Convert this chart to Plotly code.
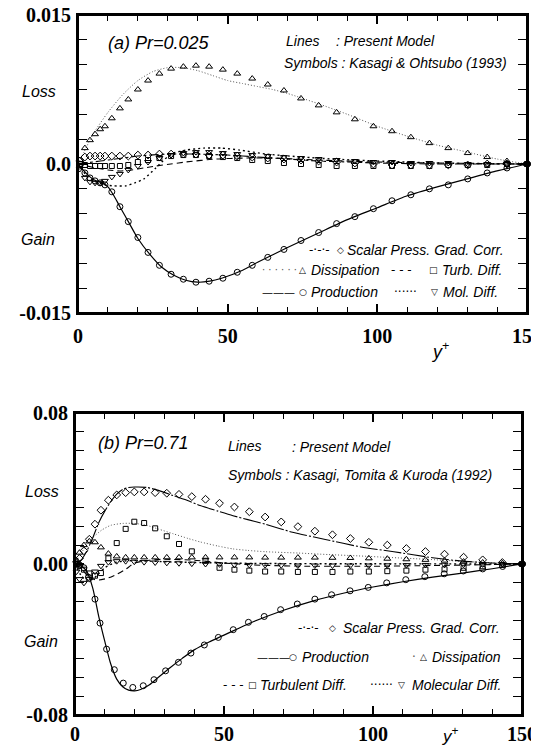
import plotly.graph_objects as go

# page is 539x753; the html body has an 8px margin on every side -> figure 523x737
OFF = 8
W, H = 523, 737

# ---------------- Panel (a) Pr = 0.025 : DNS symbols ----------------
xa_dns = [0.6, 2.3, 4.0, 5.7, 7.4, 9.0, 11.3, 14.0, 16.8, 20.0, 23.4, 27.2, 31.1, 35.2, 39.4,
          43.8, 48.4, 53.2, 58.2, 63.4, 68.8, 74.5, 80.4, 86.4, 92.5, 98.7, 104.9, 111.2,
          117.4, 123.7, 130.2, 136.7, 143.3, 150.0]
a_prod_dns = [-0.0002, -0.0009, -0.0014, -0.0017, -0.0019, -0.0021, -0.0028, -0.0043, -0.0058,
              -0.0074, -0.0089, -0.0102, -0.0111, -0.0116, -0.0119, -0.0118, -0.0115, -0.0109,
              -0.0102, -0.0094, -0.0086, -0.0077, -0.0069, -0.0060, -0.0053, -0.0045, -0.0037,
              -0.0031, -0.0025, -0.0021, -0.0015, -0.0009, -0.0004, 0.0]
a_diss_dns = [0.0004, 0.0016, 0.0024, 0.0030, 0.0035, 0.0038, 0.0046, 0.0056, 0.0065, 0.0075,
              0.0084, 0.0091, 0.0096, 0.0098, 0.0099, 0.0098, 0.0095, 0.0091, 0.0086, 0.0080,
              0.0074, 0.0066, 0.0059, 0.0052, 0.0045, 0.0038, 0.0033, 0.0027, 0.0021, 0.0016,
              0.0011, 0.0007, 0.0003, 0.0]
a_spgc_dns = [0.0003, 0.0007, 0.0008, 0.0008, 0.0008, 0.0008, 0.0008, 0.0008, 0.0008, 0.0009,
              0.0009, 0.0010, 0.0010, 0.0010, 0.0010, 0.0009, 0.0009, 0.0008, 0.0007, 0.0006,
              0.0005, 0.0004, 0.0003, 0.0002, 0.0001, 0.0000, -0.0001, -0.0001, -0.0001,
              -0.0001, -0.0001, 0.0, 0.0, 0.0]
a_turb_dns = [0.0, -0.0001, -0.0002, -0.0002, -0.0002, -0.0002, -0.0002, -0.0002, -0.0001,
              0.0002, 0.0004, 0.0006, 0.0008, 0.0009, 0.0009, 0.0008, 0.0007, 0.0006, 0.0004,
              0.0003, 0.0001, 0.0, -0.0001, -0.0002, -0.0002, -0.0002, -0.0002, -0.0002,
              -0.0002, -0.0001, -0.0001, -0.0001, 0.0, 0.0]
a_mol_dns = [-0.0005, -0.0014, -0.0018, -0.0019, -0.0019, -0.0017, -0.0013, -0.0010, -0.0006,
             -0.0002, 0.0002, 0.0006, 0.0009, 0.0011, 0.0012, 0.0012, 0.0011, 0.0010, 0.0009,
             0.0008, 0.0007, 0.0006, 0.0005, 0.0004, 0.0003, 0.0002, 0.0002, 0.0001, 0.0001,
             0.0001, 0.0, 0.0, 0.0, 0.0]

# ---------------- Panel (a) : model lines ----------------
a_prod_x = [0, 2, 4, 6, 8, 10, 12, 14, 17, 20, 24, 28, 32, 36, 40, 44, 48, 55, 60, 70, 80, 90,
            100, 110, 120, 130, 140, 150]
a_prod_v = [0, -0.0007, -0.0013, -0.0017, -0.0019, -0.0023, -0.0032, -0.0043, -0.0059, -0.0075,
            -0.0091, -0.0104, -0.0112, -0.0117, -0.0119, -0.0118, -0.0115, -0.0107, -0.0099,
            -0.0084, -0.0070, -0.0056, -0.0044, -0.0032, -0.0023, -0.0015, -0.0007, 0]
a_diss_x = [0, 2, 5, 10, 15, 20, 25, 30, 35, 40, 45, 50, 55, 60, 65, 70, 80, 90, 100, 110, 120,
            130, 140, 150]
a_diss_v = [0, 0.0012, 0.0030, 0.0052, 0.0070, 0.0084, 0.0093, 0.0097, 0.0097, 0.0094, 0.0089,
            0.0084, 0.0081, 0.0078, 0.0075, 0.0071, 0.0061, 0.0050, 0.0038, 0.0028, 0.0019,
            0.0012, 0.0005, 0.0]
a_spgc_x = [0, 5, 10, 15, 20, 30, 40, 50, 60, 70, 80, 90, 100, 120, 150]
a_spgc_v = [0, 0.0002, 0.0004, 0.0006, 0.0008, 0.0010, 0.0010, 0.0009, 0.0007, 0.0005, 0.0003,
            0.0002, 0.0001, 0.0, 0.0]
a_turb_x = [0, 3, 6, 10, 14, 18, 22, 26, 31, 36, 46, 56, 65, 80, 100, 120, 150]
a_turb_v = [0, -0.0002, -0.0004, -0.0006, -0.0007, -0.0006, -0.0004, -0.0002, 0.0, 0.0002,
            0.0005, 0.0006, 0.0006, 0.0004, 0.0002, 0.0001, 0.0]
a_mol_x = [0, 3, 6, 9, 12, 16, 19, 22, 26, 29, 32, 36, 42, 48, 54, 63, 75, 85, 100, 120, 150]
a_mol_v = [0, -0.0012, -0.0018, -0.0021, -0.0022, -0.0022, -0.0019, -0.0015, -0.0004, 0.0005,
           0.0011, 0.0014, 0.0016, 0.0016, 0.0014, 0.0010, 0.0007, 0.0005, 0.0003, 0.0001, 0.0]

# ---------------- Panel (b) Pr = 0.71 : DNS symbols ----------------
xb_dns = [0.5, 1.5, 3.0, 4.8, 6.7, 8.7, 11.2, 14.0, 17.0, 19.9, 23.2, 26.9, 30.8, 34.9, 39.2,
          43.8, 48.5, 53.5, 58.5, 63.8, 69.2, 74.8, 80.5, 86.4, 92.4, 98.6, 104.8, 111.2,
          117.6, 124.0, 130.4, 136.8, 143.4, 150.0]
xb_prod_dns = [0.5, 1.5, 3.0, 4.5, 6.7, 8.4, 10.6, 13.2, 16.2, 19.4, 22.9, 26.5, 30.4, 34.7,
               38.9, 43.4, 48.1, 53.1, 58.2, 63.5, 69.0, 74.6, 80.5, 86.1, 92.3, 98.4, 104.6,
               111.0, 117.4, 123.9, 130.3, 136.8, 143.5, 150.0]
b_prod_dns = [0.0, -0.0005, -0.002, -0.007, -0.0186, -0.0313, -0.0451, -0.0560, -0.0631,
              -0.0654, -0.0645, -0.0613, -0.0566, -0.0521, -0.0472, -0.0429, -0.0389, -0.0348,
              -0.0309, -0.0278, -0.0242, -0.0212, -0.0186, -0.0163, -0.0142, -0.0124, -0.0100,
              -0.0083, -0.0067, -0.0052, -0.0037, -0.0026, -0.0013, 0.0]
b_spgc_dns = [0.001, 0.003, 0.007, 0.0131, 0.0211, 0.0285, 0.0338, 0.0366, 0.0378, 0.0382,
              0.0382, 0.0378, 0.0375, 0.0369, 0.0357, 0.0343, 0.0322, 0.0302, 0.0277, 0.0249,
              0.0223, 0.0198, 0.0174, 0.0155, 0.0135, 0.0115, 0.0100, 0.0082, 0.0066, 0.0052,
              0.0036, 0.0022, 0.0008, 0.0]
b_turb_dns = [0.0, -0.001, -0.003, -0.005, -0.0062, -0.0048, 0.003, 0.0111, 0.0186, 0.0224,
              0.0217, 0.0189, 0.0147, 0.0106, 0.0067, 0.0017, -0.002, -0.003, -0.0035, -0.004,
              -0.004, -0.0042, -0.0042, -0.0042, -0.004, -0.004, -0.0038, -0.0035, -0.003,
              -0.0028, -0.002, -0.0012, -0.0005, 0.0]
b_diss_dns = [0.002, 0.006, 0.010, 0.012, 0.0115, 0.0088, 0.0055, 0.004, 0.0035, 0.0035,
              0.0035, 0.0035, 0.0035, 0.0035, 0.0035, 0.0035, 0.0035, 0.0035, 0.0035, 0.0034,
              0.0034, 0.0034, 0.0034, 0.0033, 0.0032, 0.003, 0.0028, 0.0025, 0.0022, 0.0018,
              0.0013, 0.0008, 0.0004, 0.0]
b_mol_dns = [-0.004, -0.008, -0.010, -0.008, -0.004, -0.001, 0.001, 0.0015, 0.0015, 0.0012,
             0.001, 0.0008, 0.0006, 0.0004, 0.0002, 0.0, -0.0002, -0.0004, -0.0005, -0.0006,
             -0.0007, -0.0008, -0.0008, -0.0008, -0.0008, -0.0008, -0.0007, -0.0006, -0.0005,
             -0.0004, -0.0003, -0.0002, -0.0001, 0.0]

# ---------------- Panel (b) : model lines ----------------
b_spgc_x = [0, 2, 4, 6, 8, 10, 12, 14, 16, 18, 20, 24, 28, 33, 38, 42, 48, 53, 58, 64, 73, 84,
            96, 107, 120, 130, 140, 150]
b_spgc_v = [0, 0.002, 0.007, 0.014, 0.022, 0.028, 0.033, 0.037, 0.0395, 0.0405, 0.0408, 0.0406,
            0.039, 0.0362, 0.0335, 0.031, 0.028, 0.0256, 0.0235, 0.021, 0.0168, 0.013, 0.009,
            0.0065, 0.0033, 0.0015, 0.0005, 0]
b_prod_x = [0, 2, 4, 6, 8, 10, 12, 14, 16, 18, 20, 22, 25, 28, 32, 36, 40, 45, 50, 55, 60, 70,
            80, 90, 100, 110, 120, 130, 140, 150]
b_prod_v = [0, -0.001, -0.004, -0.013, -0.028, -0.041, -0.053, -0.061, -0.065, -0.0668, -0.0672,
            -0.0665, -0.064, -0.060, -0.0548, -0.050, -0.0455, -0.0413, -0.0377, -0.034,
            -0.0305, -0.0245, -0.0195, -0.0155, -0.0122, -0.0094, -0.007, -0.0048, -0.0025, 0]
b_diss_x = [0, 3, 6, 9, 12, 16, 20, 24, 28, 33, 38, 42, 48, 53, 58, 64, 75, 85, 95, 105, 118,
            130, 140, 150]
b_diss_v = [0, 0.008, 0.014, 0.018, 0.0205, 0.0215, 0.0215, 0.0205, 0.0185, 0.016, 0.0135,
            0.0117, 0.0095, 0.008, 0.0072, 0.0065, 0.0058, 0.005, 0.0043, 0.0035, 0.0025,
            0.0014, 0.0006, 0]
b_turb_x = [0, 2, 4, 6, 8, 11, 14, 17, 20, 25, 30, 40, 50, 60, 70, 80, 100, 120, 140, 150]
b_turb_v = [0, -0.002, -0.006, -0.008, -0.0085, -0.0075, -0.0055, -0.0028, 0.0005, 0.002,
            0.0025, 0.002, 0.0005, -0.0005, -0.001, -0.0012, -0.0012, -0.0008, -0.0003, 0]
b_mol_x = [0, 2, 4, 6, 8, 10, 13, 16, 20, 30, 40, 60, 100, 150]
b_mol_v = [0, -0.006, -0.009, -0.008, -0.005, -0.002, 0.0005, 0.0015, 0.0018, 0.0012, 0.0008,
           0.0003, 0.0001, 0]

# ticks
x_ticks = [0, 50, 100, 150]
x_ticktext = ["0", "50", "100", "150"]
x_minor = list(range(0, 151, 10))
ya_ticks = [-0.015, 0.0, 0.015]
ya_ticktext = ["-0.015", "0.0", "0.015"]
ya_minor = [i * 0.0025 for i in range(-6, 7)]
yb_ticks = [-0.08, 0.0, 0.08]
yb_ticktext = ["-0.08", "0.00", "0.08"]
yb_minor = [i * 0.01 for i in range(-8, 9)]

BLACK = "black"
fig = go.Figure()


def model(x, y, xa, ya, dash, width=1.1, color=BLACK):
    fig.add_trace(go.Scatter(x=x, y=y, xaxis=xa, yaxis=ya, mode="lines",
                             line=dict(color=color, width=width, dash=dash, shape="spline",
                                       smoothing=0.6),
                             showlegend=False, hoverinfo="skip", cliponaxis=False))


def dns(x, y, xa, ya, symbol, size=6):
    fig.add_trace(go.Scatter(x=x, y=y, xaxis=xa, yaxis=ya, mode="markers",
                             marker=dict(symbol=symbol, size=size, color=BLACK,
                                         line=dict(color=BLACK, width=1)),
                             showlegend=False, hoverinfo="skip", cliponaxis=False))


# panel a
model(a_diss_x, a_diss_v, "x", "y", "1px,2px", 1.0, "#555")
model(a_spgc_x, a_spgc_v, "x", "y", "dashdot")
model(a_turb_x, a_turb_v, "x", "y", "6px,4px")
model(a_mol_x, a_mol_v, "x", "y", "2px,3px", 1.4)
model(a_prod_x, a_prod_v, "x", "y", "solid", 1.2)
dns(xa_dns, a_diss_dns, "x", "y", "triangle-up-open")
dns(xa_dns, a_spgc_dns, "x", "y", "diamond-open")
dns(xa_dns, a_turb_dns, "x", "y", "square-open", 5)
dns(xa_dns, a_mol_dns, "x", "y", "triangle-down-open")
dns(xa_dns, a_prod_dns, "x", "y", "circle-open")

# panel b
model(b_diss_x, b_diss_v, "x2", "y2", "1px,2px", 1.0, "#555")
model(b_spgc_x, b_spgc_v, "x2", "y2", "18px,2px,2px,2px")
model(b_turb_x, b_turb_v, "x2", "y2", "6px,4px")
model(b_mol_x, b_mol_v, "x2", "y2", "2px,3px", 1.4)
model(b_prod_x, b_prod_v, "x2", "y2", "solid", 1.2)
dns(xb_dns, b_diss_dns, "x2", "y2", "triangle-up-open")
dns(xb_dns, b_spgc_dns, "x2", "y2", "diamond-open")
dns(xb_dns, b_turb_dns, "x2", "y2", "square-open", 5)
dns(xb_dns, b_mol_dns, "x2", "y2", "triangle-down-open")
dns(xb_prod_dns, b_prod_dns, "x2", "y2", "circle-open")

tickfont = dict(family="Liberation Serif", size=20, color=BLACK, weight="bold")


def xaxis(domain, anchor, standoff):
    return dict(domain=domain, anchor=anchor, range=[0, 150], tickmode="array",
                tickvals=x_ticks, ticktext=x_ticktext, ticks="inside", ticklen=9,
                tickwidth=1.5, tickcolor=BLACK, showline=True, linewidth=2, linecolor=BLACK,
                mirror="allticks", showgrid=False, zeroline=False, tickfont=tickfont,
                ticklabelstandoff=standoff, automargin=False, ticklabeloverflow="allow",
                minor=dict(tickmode="array", tickvals=x_minor, ticks="inside", ticklen=6,
                           tickwidth=1.2, tickcolor=BLACK, showgrid=False))


def yaxis(domain, anchor, rng, tv, tt, mv):
    return dict(domain=domain, anchor=anchor, range=rng, tickmode="array", tickvals=tv,
                ticktext=tt, ticks="inside", ticklen=9, tickwidth=1.5, tickcolor=BLACK,
                showline=True, linewidth=2, linecolor=BLACK, mirror="allticks",
                showgrid=False, zeroline=False, tickfont=tickfont, ticklabelstandoff=1,
                automargin=False, ticklabeloverflow="allow",
                minor=dict(tickmode="array", tickvals=mv, ticks="inside", ticklen=9,
                           tickwidth=1.2, tickcolor=BLACK, showgrid=False))


def X(p):
    return (p - OFF) / W


def Y(p):
    return 1 - (p - OFF) / H


annos = []


def txt(text, x, y, anchor="left", size=14, family="Liberation Sans", color=BLACK):
    annos.append(dict(text=text, x=X(x), y=Y(y), xref="paper", yref="paper", showarrow=False,
                      xanchor=anchor, yanchor="middle",
                      font=dict(family=family, size=size, color=color)))


# panel a texts
txt("<i>(a) Pr=0.025</i>", 106, 43, size=18)
txt("<i>Lines</i>", 284, 41)
txt("<i>: Present Model</i>", 334, 41)
txt("<i>Symbols : Kasagi &amp; Ohtsubo (1993)</i>", 282, 63)
txt("<i>Loss</i>", 39, 91, "center", 16)
txt("<i>Gain</i>", 38, 239, "center", 16)
txt("<i>y</i><sup>+</sup>", 440, 350, "center", 18)
# legend a
SYM = "DejaVu Sans"
txt("-·-·-", 319, 250, "center", 12, SYM)
txt("◇", 340, 250, "center", 9, SYM)
txt("<i>Scalar Press. Grad. Corr.</i>", 345, 250, size=14)
txt("· · · · · ·", 279, 270, "center", 10, SYM, "#555")
txt("△", 302, 270, "center", 9, SYM)
txt("<i>Dissipation</i>", 309, 270, size=14)
txt("- - -", 401, 270, "center", 12, SYM)
txt("□", 433, 270, "center", 9, SYM)
txt("<i>Turb. Diff.</i>", 440, 270, size=14)
txt("———", 278, 292, "center", 11, SYM)
txt("○", 303, 292, "center", 9, SYM)
txt("<i>Production</i>", 309, 292, size=14)
txt("······", 405, 292, "center", 12, SYM)
txt("▽", 434, 292, "center", 9, SYM)
txt("<i>Mol. Diff.</i>", 441, 292, size=14)

# panel b texts
txt("<i>(b) Pr=0.71</i>", 96, 443, size=18)
txt("<i>Lines</i>", 226, 446)
txt("<i>: Present Model</i>", 290, 447)
txt("<i>Symbols : Kasagi, Tomita &amp; Kuroda (1992)</i>", 226, 475)
txt("<i>Loss</i>", 42, 491, "center", 16)
txt("<i>Gain</i>", 41, 641, "center", 16)
txt("<i>y</i><sup>+</sup>", 450, 735, "center", 17)
# legend b
txt("-·-·-", 308, 628, "center", 12, SYM)
txt("◇", 332, 628, "center", 9, SYM)
txt("<i>Scalar Press. Grad. Corr.</i>", 341, 628, size=14)
txt("———", 273, 657, "center", 11, SYM)
txt("○", 293, 657, "center", 9, SYM)
txt("<i>Production</i>", 300, 657, size=14)
txt("·", 414, 657, "center", 12, SYM, "#555")
txt("△", 423, 657, "center", 9, SYM)
txt("<i>Dissipation</i>", 430, 657, size=14)
txt("- - -", 233, 685, "center", 12, SYM)
txt("□", 252, 685, "center", 9, SYM)
txt("<i>Turbulent Diff.</i>", 258, 685, size=14)
txt("······", 381, 685, "center", 12, SYM)
txt("▽", 401, 685, "center", 9, SYM)
txt("<i>Molecular Diff.</i>", 410, 685, size=14)

# panel frames drawn in paper coordinates (not clipped by the subplot)
PANEL_A = (78, 527, 15, 313)
PANEL_B = (75, 522, 413, 715)
frames = []
for (l, r, t, b) in (PANEL_A, PANEL_B):
    frames.append(dict(type="rect", xref="paper", yref="paper", x0=X(l), x1=X(r),
                       y0=Y(b), y1=Y(t), line=dict(color=BLACK, width=2),
                       fillcolor="rgba(0,0,0,0)", layer="above"))

fig.update_layout(
    width=W, height=H, autosize=False,
    margin=dict(l=0, r=0, t=0, b=0, autoexpand=False),
    paper_bgcolor="white", plot_bgcolor="white",
    showlegend=False,
    xaxis=xaxis([X(PANEL_A[0]), X(PANEL_A[1])], "y", 4),
    yaxis=yaxis([Y(PANEL_A[3]), Y(PANEL_A[2])], "x", [-0.015, 0.015], ya_ticks, ya_ticktext,
                ya_minor),
    xaxis2=xaxis([X(PANEL_B[0]), X(PANEL_B[1])], "y2", 0),
    yaxis2=yaxis([Y(PANEL_B[3]), Y(PANEL_B[2])], "x2", [-0.08, 0.08], yb_ticks, yb_ticktext,
                 yb_minor),
    annotations=annos,
    shapes=frames,
)

fig.write_html("out.html")
